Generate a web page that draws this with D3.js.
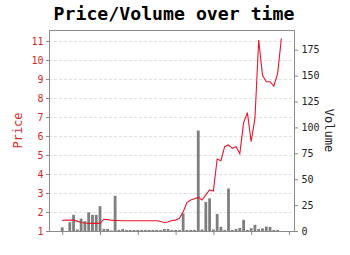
<!DOCTYPE html>
<html><head><meta charset="utf-8">
<script src="https://cdn.jsdelivr.net/npm/d3@7"></script>
<style>
html,body{margin:0;padding:0;background:#fff;}
svg{display:block;font-family:"DejaVu Sans Mono",monospace;}
</style></head>
<body>
<script>
// ---- data ----
const days = d3.range(59);
const price = [
  1.55,1.57,1.57,1.57,1.52,1.45,1.42,1.40,1.40,1.40,   // 0-9
  1.40,1.62,1.60,1.57,1.55,1.55,1.54,1.54,1.54,1.54,   // 10-19
  1.54,1.54,1.54,1.54,1.54,1.54,1.50,1.45,1.47,1.55,   // 20-29
  1.57,1.67,2.00,2.50,2.63,2.70,2.77,2.63,2.90,3.16,   // 30-39
  3.10,4.79,4.70,5.45,5.53,5.35,5.44,5.07,6.70,7.23,   // 40-49
  5.70,6.93,11.05,9.20,8.86,8.86,8.63,9.30,11.14       // 50-58
];
const volume = [
  3.5,0,8.5,15.6,1.5,12,9.5,18,15.6,15.6,   // 0-9
  24,2,2,0.5,34,1,2,1,1,1,                  // 10-19
  1,1,1,1,1,1,1,2,2,1,                      // 20-29
  1,1,17,1,1,1,97,1.5,28,31.5,              // 30-39
  1.5,16.5,4,1,41,1,2,3,10.8,1,             // 40-49
  2.7,6,2,2.5,4.3,4,1,1,0                   // 50-58
];
const priceTicks = [1,2,3,4,5,6,7,8,9,10,11];
const volumeTicks = [0,25,50,75,100,125,150,175];
const dayTicks = [0,10,20,30,40,50,60];

const W = 350, H = 255;
const m = {left:49, right:295, top:30, bottom:231};
const priceColor = "#d62728", lineColor = "#e8162a", barColor = "#7f7f7f";

const svg = d3.select("body").append("svg").attr("width", W).attr("height", H);

const x = d3.scaleLinear().domain([-3.5, 61.6]).range([m.left, m.right]);
const yP = d3.scaleLinear().domain([1, 11.58]).range([m.bottom, m.top]);
const yV = d3.scaleLinear().domain([0, d3.max(volume) * 2]).range([m.bottom, m.top]);

// grid
svg.append("g").selectAll("line").data(priceTicks).join("line")
  .attr("x1", m.left).attr("x2", m.right)
  .attr("y1", d => Math.round(yP(d)) + 0.5).attr("y2", d => Math.round(yP(d)) + 0.5)
  .attr("stroke", "#d8d8d8").attr("stroke-width", 0.8).attr("stroke-dasharray", "3,2");

// bars
const bw = 2.8;
svg.append("g").selectAll("rect").data(days).join("rect")
  .attr("x", d => x(d) - bw / 2)
  .attr("y", d => yV(volume[d]))
  .attr("width", bw)
  .attr("height", d => m.bottom - yV(volume[d]))
  .attr("fill", barColor);

// line
svg.append("path").datum(days)
  .attr("fill", "none").attr("stroke", lineColor).attr("stroke-width", 1.1)
  .attr("d", d3.line().x(d => x(d)).y(d => yP(price[d])));

// frame
svg.append("rect").attr("x", m.left + 0.5).attr("y", m.top + 0.5)
  .attr("width", m.right - m.left - 1).attr("height", m.bottom - m.top)
  .attr("fill", "none").attr("stroke", "#8a8a8a").attr("stroke-width", 1);

// axes
const axL = d3.axisLeft(yP).tickValues(priceTicks).tickSize(3.5).tickPadding(2.5).tickFormat(d3.format("d"));
const gL = svg.append("g").attr("transform", `translate(${m.left + 0.5},0)`).call(axL);
gL.select(".domain").remove();
gL.selectAll("line").attr("stroke", "#8a8a8a");
gL.selectAll("text").attr("fill", priceColor).attr("font-size", 10).attr("font-family", "DejaVu Sans Mono");

const axR = d3.axisRight(yV).tickValues(volumeTicks).tickSize(3.5).tickPadding(3.5);
const gR = svg.append("g").attr("transform", `translate(${m.right - 0.5},0)`).call(axR);
gR.select(".domain").remove();
gR.selectAll("line").attr("stroke", "#8a8a8a");
gR.selectAll("text").attr("fill", "#222").attr("font-size", 10).attr("font-family", "DejaVu Sans Mono");

const axB = d3.axisBottom(x).tickValues(dayTicks).tickSize(3.5).tickFormat("");
const gB = svg.append("g").attr("transform", `translate(0,${m.bottom + 0.5})`).call(axB);
gB.select(".domain").remove();
gB.selectAll("line").attr("stroke", "#8a8a8a");

// labels
svg.append("text").attr("x", 174).attr("y", 20).attr("text-anchor", "middle")
  .attr("font-size", 18.2).attr("font-weight", "bold").attr("fill", "#000")
  .text("Price/Volume over time");

svg.append("text").attr("transform", `translate(22,${(m.top + m.bottom) / 2}) rotate(-90)`)
  .attr("text-anchor", "middle").attr("font-size", 12).attr("fill", priceColor)
  .text("Price");

svg.append("text").attr("transform", `translate(325,${(m.top + m.bottom) / 2}) rotate(90)`)
  .attr("text-anchor", "middle").attr("font-size", 12).attr("fill", "#222")
  .text("Volume");
</script>
</body></html>
